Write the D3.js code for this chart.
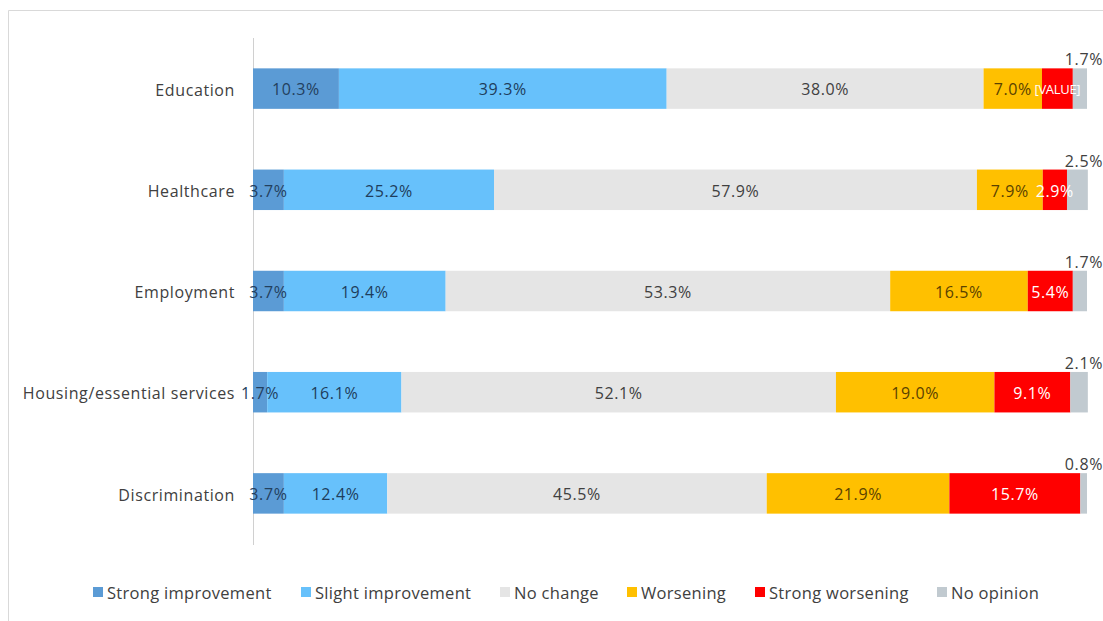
<!DOCTYPE html>
<html>
<head>
<meta charset="utf-8">
<script src="https://cdn.jsdelivr.net/npm/d3@7"></script>
<style>
  body { margin: 0; background: #fff; }
  svg { display: block; font-family: "Open Sans", Lato, sans-serif; }
</style>
</head>
<body>
<script>
// categories and series (percent)
var categories = ["Education", "Healthcare", "Employment", "Housing/essential services", "Discrimination"];
var seriesNames = ["Strong improvement", "Slight improvement", "No change", "Worsening", "Strong worsening", "No opinion"];
var strongImprovement = [10.3, 3.7, 3.7, 1.7, 3.7];
var slightImprovement = [39.3, 25.2, 19.4, 16.1, 12.4];
var noChange = [38.0, 57.9, 53.3, 52.1, 45.5];
var worsening = [7.0, 7.9, 16.5, 19.0, 21.9];
var strongWorsening = [3.7, 2.9, 5.4, 9.1, 15.7];
var noOpinion = [1.7, 2.5, 1.7, 2.1, 0.8];
// the original chart shows a broken label on one cell
var labelOverrides = { "0-4": "[VALUE]" };

var colors = ["#5b9bd5", "#67c1fb", "#e5e5e5", "#ffc000", "#ff0000", "#c1cad0"];
var labelColors = ["#23405e", "#1e3d5c", "#404040", "#5a4200", "#ffffff", "#404040"];

var W = 1103, H = 621;
var svg = d3.select("body").append("svg")
    .attr("width", W)
    .attr("height", H);

// frame
svg.append("path")
    .attr("d", "M8.5," + H + "V10.5H" + W)
    .attr("fill", "none")
    .attr("stroke", "#d9d9d9");

var allSeries = [strongImprovement, slightImprovement, noChange, worsening, strongWorsening, noOpinion];
var rows = categories.map(function (c, i) {
    var row = { cat: c };
    seriesNames.forEach(function (s, j) { row[s] = allSeries[j][i]; });
    return row;
});

var stack = d3.stack().keys(seriesNames);
var layers = stack(rows);

var x = d3.scaleLinear()
    .domain([0, 100])
    .range([253, 1087]);

var y = d3.scaleBand()
    .domain(categories)
    .range([38, 544])
    .paddingInner(0.6)
    .paddingOuter(0.3);

// axis line
svg.append("line")
    .attr("x1", 253.5).attr("x2", 253.5)
    .attr("y1", 38).attr("y2", 545)
    .attr("stroke", "#d0d0d0");

var layer = svg.append("g").selectAll("g")
    .data(layers)
    .enter().append("g")
    .attr("fill", function (d, j) { return colors[j]; });

layer.selectAll("rect")
    .data(function (d) { return d; })
    .enter().append("rect")
    .attr("x", function (d) { return x(d[0]); })
    .attr("width", function (d) { return x(d[1]) - x(d[0]); })
    .attr("y", function (d) { return y(d.data.cat); })
    .attr("height", y.bandwidth());

// value labels
layers.forEach(function (L, j) {
    svg.append("g").selectAll("text")
        .data(L)
        .enter().append("text")
        .attr("x", function (d) {
            return j === 5 ? W : (x(d[0]) + x(d[1])) / 2;
        })
        .attr("y", function (d) {
            return j === 5 ? y(d.data.cat) - 3 : y(d.data.cat) + y.bandwidth() / 2 + 1;
        })
        .attr("dy", j === 5 ? "0" : "0.36em")
        .attr("text-anchor", j === 5 ? "end" : "middle")
        .attr("fill", labelColors[j])
        .style("font-size", function (d, i) { return labelOverrides[i + "-" + j] ? "13px" : "16px"; })
        .style("letter-spacing", function (d, i) { return labelOverrides[i + "-" + j] ? "-0.3px" : "0.6px"; })
        .text(function (d, i) {
            var key = i + "-" + j;
            if (labelOverrides[key]) return labelOverrides[key];
            return (d[1] - d[0]).toFixed(1) + "%";
        });
});

// category axis
var yAxis = d3.axisLeft(y).tickSize(0).tickPadding(18);
var gy = svg.append("g")
    .attr("transform", "translate(253,2)")
    .call(yAxis);
gy.select(".domain").remove();
gy.selectAll("text")
    .attr("fill", "#404040")
    .style("font-size", "16px")
    .style("letter-spacing", "0.6px")
    .style("font-family", "'Open Sans', sans-serif");

// legend
var legendX = [93, 301, 500, 627, 755, 937];
var legend = svg.append("g").selectAll("g")
    .data(seriesNames)
    .enter().append("g")
    .attr("transform", function (d, j) { return "translate(" + legendX[j] + ",594)"; });
legend.append("rect")
    .attr("x", 0).attr("y", -7)
    .attr("width", 10).attr("height", 10)
    .attr("fill", function (d, j) { return colors[j]; });
legend.append("text")
    .attr("x", 14)
    .attr("y", 0)
    .attr("dy", "0.32em")
    .attr("fill", "#404040")
    .style("font-size", "16.5px")
    .style("letter-spacing", "0.3px")
    .text(function (d) { return d; });
</script>
</body>
</html>
